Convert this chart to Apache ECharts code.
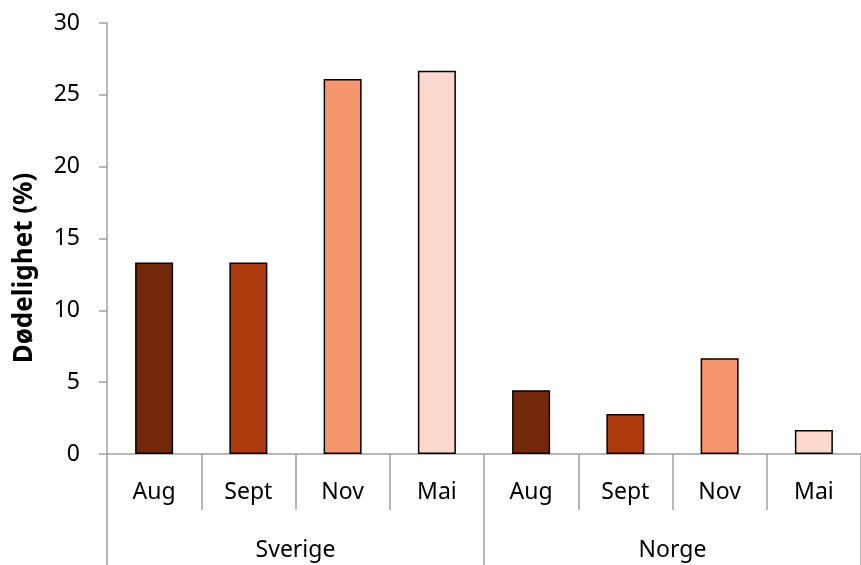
<!DOCTYPE html>
<html><head><meta charset="utf-8">
<script src="https://cdn.jsdelivr.net/npm/echarts@6/dist/echarts.min.js"></script>
<style>html,body{margin:0;padding:0;background:#fff}#c{width:861px;height:565px}</style>
</head><body><div id="c"></div>
<script>
const months = ["Aug","Sept","Nov","Mai","Aug","Sept","Nov","Mai"];
const countries = ["Sverige","Norge"];
const values = [13.33, 13.33, 26.1, 26.67, 4.44, 2.78, 6.67, 1.67];
const monthColors = ["#74290a","#ae3b0b","#f4956b","#fcd9cc"];
const yTicks = {min:0, max:30, interval:5};
const yTitle = "Dødelighet (%)";

const FONT = "Noto Sans";
const axisGray = "#a0a0a0";
const chart = echarts.init(document.getElementById('c'));
chart.setOption({
  animation:false,
  grid:{left:107, right:-6, top:23, bottom:111, containLabel:false},
  xAxis:[{
    type:'category', data:months, position:'bottom',
    axisLine:{show:true, lineStyle:{color:axisGray, width:1.5}},
    axisTick:{show:true, alignWithLabel:false, interval:0, length:56, lineStyle:{color:axisGray, width:1.5}},
    axisLabel:{interval:0, margin:27, color:'#000', fontFamily:FONT, fontSize:23}
  },{
    type:'category', data:countries, position:'bottom',
    axisLine:{show:false},
    axisTick:{show:true, interval:0, length:112, lineStyle:{color:axisGray, width:1.5}},
    axisLabel:{interval:0, margin:85, color:'#000', fontFamily:FONT, fontSize:23}
  }],
  yAxis:{
    type:'value', min:yTicks.min, max:yTicks.max, interval:yTicks.interval,
    axisLine:{show:true, lineStyle:{color:axisGray, width:1.5}},
    axisTick:{show:true, length:8, lineStyle:{color:axisGray, width:1.5}},
    splitLine:{show:false},
    axisLabel:{margin:27, color:'#000', fontFamily:FONT, fontSize:23}
  },
  graphic:[{
    type:'text', x:25, y:268, rotation:Math.PI/2,
    style:{text:yTitle, fontFamily:FONT, fontSize:26, fontWeight:'bold', fill:'#000', align:'center', verticalAlign:'middle'}
  }],
  series:[{
    type:'bar', xAxisIndex:0, barWidth:38,
    data: values.map((v,i)=>({value:v, itemStyle:{color:monthColors[i%4]}})),
    itemStyle:{borderColor:'#000', borderWidth:1.5}
  }]
});
</script></body></html>
